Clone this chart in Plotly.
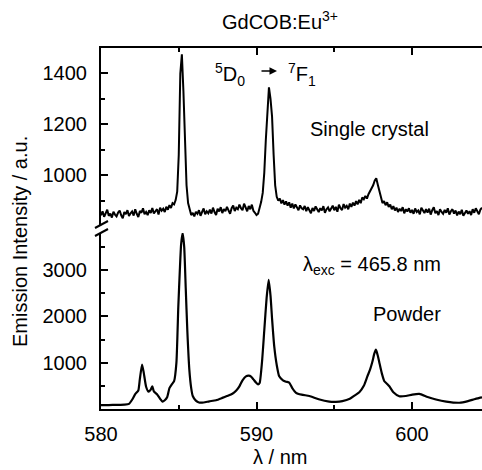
import plotly.graph_objects as go

# ---------------- data ----------------
crystal_wl = [
    580.0, 580.1, 580.2, 580.3, 580.4, 580.5, 580.6, 580.7, 580.8, 580.9,
    581.0, 581.1, 581.2, 581.3, 581.4, 581.5, 581.6, 581.7, 581.8, 581.9,
    582.0, 582.1, 582.2, 582.3, 582.4, 582.5, 582.6, 582.7, 582.8, 582.9,
    583.0, 583.1, 583.2, 583.3, 583.4, 583.5, 583.6, 583.7, 583.8, 583.9,
    584.0, 584.1, 584.2, 584.3, 584.4, 584.5, 584.6, 584.7, 584.8, 584.9,
    585.0, 585.1, 585.2, 585.3, 585.4, 585.5, 585.6, 585.7, 585.8, 585.9,
    586.0, 586.1, 586.2, 586.3, 586.4, 586.5, 586.6, 586.7, 586.8, 586.9,
    587.0, 587.1, 587.2, 587.3, 587.4, 587.5, 587.6, 587.7, 587.8, 587.9,
    588.0, 588.1, 588.2, 588.3, 588.4, 588.5, 588.6, 588.7, 588.8, 588.9,
    589.0, 589.1, 589.2, 589.3, 589.4, 589.5, 589.6, 589.7, 589.8, 589.9,
    590.0, 590.1, 590.2, 590.3, 590.4, 590.5, 590.6, 590.7, 590.8, 590.9,
    591.0, 591.1, 591.2, 591.3, 591.4, 591.5, 591.6, 591.7, 591.8, 591.9,
    592.0, 592.1, 592.2, 592.3, 592.4, 592.5, 592.6, 592.7, 592.8, 592.9,
    593.0, 593.1, 593.2, 593.3, 593.4, 593.5, 593.6, 593.7, 593.8, 593.9,
    594.0, 594.1, 594.2, 594.3, 594.4, 594.5, 594.6, 594.7, 594.8, 594.9,
    595.0, 595.1, 595.2, 595.3, 595.4, 595.5, 595.6, 595.7, 595.8, 595.9,
    596.0, 596.1, 596.2, 596.3, 596.4, 596.5, 596.6, 596.7, 596.8, 596.9,
    597.0, 597.1, 597.2, 597.3, 597.4, 597.5, 597.6, 597.7, 597.8, 597.9,
    598.0, 598.1, 598.2, 598.3, 598.4, 598.5, 598.6, 598.7, 598.8, 598.9,
    599.0, 599.1, 599.2, 599.3, 599.4, 599.5, 599.6, 599.7, 599.8, 599.9,
    600.0, 600.1, 600.2, 600.3, 600.4, 600.5, 600.6, 600.7, 600.8, 600.9,
    601.0, 601.1, 601.2, 601.3, 601.4, 601.5, 601.6, 601.7, 601.8, 601.9,
    602.0, 602.1, 602.2, 602.3, 602.4, 602.5, 602.6, 602.7, 602.8, 602.9,
    603.0, 603.1, 603.2, 603.3, 603.4, 603.5, 603.6, 603.7, 603.8, 603.9,
    604.0, 604.1, 604.2, 604.3, 604.4, 604.5,
]
crystal_int = [
    842, 858, 836, 851, 864, 840, 849, 833, 856, 845,
    838, 853, 861, 842, 830, 855, 847, 862, 839, 850,
    857, 841, 866, 848, 835, 859, 852, 870, 846, 855,
    843, 862, 851, 871, 849, 858, 866, 845, 872, 860,
    868, 855, 876, 864, 882, 871, 890, 885, 902, 935,
    1080, 1400, 1475, 1330, 1090, 960, 890, 860, 843, 852,
    838, 856, 848, 862, 840, 855, 869, 846, 858, 850,
    864, 849, 872, 855, 843, 868, 857, 874, 851, 866,
    858, 875, 862, 848, 870, 881, 859, 872, 866, 884,
    870, 862, 888, 874, 858, 879, 866, 884, 860, 852,
    843, 848, 870, 895, 930, 1010, 1140, 1270, 1345, 1300,
    1230, 1080, 960, 915, 900, 908, 889, 902, 884, 897,
    880, 893, 872, 888, 869, 885, 876, 862, 881, 870,
    866, 879, 858, 874, 862, 850, 871, 859, 877, 864,
    855, 870, 861, 878, 852, 866, 873, 858, 869, 880,
    862, 875, 856, 884, 870, 863, 886, 872, 879, 866,
    888, 875, 892, 880, 898, 885, 903, 890, 912, 905,
    918, 908, 925, 935, 948, 960, 978, 988, 962, 935,
    905, 890, 898, 882, 893, 875, 884, 866, 878, 861,
    872, 855, 868, 859, 874, 850, 866, 857, 870, 852,
    863, 848, 869, 855, 861, 846, 872, 858, 851, 866,
    853, 868, 845, 862, 874, 850, 859, 843, 866, 855,
    848, 863, 852, 870, 845, 858, 866, 849, 861, 842,
    857, 846, 864, 840, 853, 861, 848, 858, 843, 866,
    852, 870, 858, 846, 865, 872,
]

powder_wl = [
    580.0, 580.5, 581.0, 581.5, 581.8, 582.0, 582.2, 582.4, 582.5, 582.64,
    582.75, 582.9, 583.05, 583.2, 583.3, 583.4, 583.6, 583.8, 583.95, 584.1,
    584.26, 584.4, 584.55, 584.7, 584.85, 584.97, 585.07, 585.15, 585.25, 585.35,
    585.45, 585.55, 585.68, 585.8, 585.9, 586.1, 586.3, 586.6, 586.96, 587.4,
    587.8, 588.1, 588.45, 588.7, 588.9, 589.1, 589.32, 589.5, 589.65, 589.8,
    589.97, 590.1, 590.2, 590.35, 590.5, 590.65, 590.78, 590.9, 591.0, 591.14,
    591.3, 591.46, 591.7, 591.9, 592.1, 592.3, 592.54, 592.9, 593.4, 594.0,
    594.68, 595.1, 595.52, 596.0, 596.3, 596.61, 596.9, 597.13, 597.3, 597.45,
    597.58, 597.68, 597.8, 597.9, 598.05, 598.22, 598.4, 598.54, 598.8, 599.18,
    599.6, 600.02, 600.47, 601.0, 601.54, 602.2, 603.04, 603.6, 604.0, 604.33,
    604.5,
]
powder_int = [
    85, 85, 90, 95, 110, 200, 320, 400, 650, 960,
    780, 480, 375, 420, 490, 380, 320, 220, 160, 190,
    260, 450, 530, 600, 1000, 2200, 3000, 3550, 3800, 3500,
    2600, 1700, 850, 450, 280, 180, 140, 140, 165, 190,
    240, 280, 330, 400, 490, 620, 705, 720, 700, 640,
    570, 530, 560, 1000, 1700, 2400, 2790, 2450, 1950, 1350,
    950, 705, 620, 590, 570, 450, 350, 310, 280, 210,
    160, 155, 170, 220, 290, 360, 500, 705, 850, 1020,
    1200, 1280, 1150, 1000, 780, 600, 540, 490, 360, 275,
    280, 310, 325, 260, 205, 160, 135, 170, 210, 240,
    250,
]

x_ticks = [580, 590, 600]
x_minor = [585, 595, 605]
y_top_ticks = [1000, 1200, 1400]
y_top_minor = [900, 1100, 1300, 1500]
y_bot_ticks = [1000, 2000, 3000]
y_bot_minor = [500, 1500, 2500, 3500]

# ---------------- layout geometry ----------------
W, H = 482, 470
ML, MR, MT, MB = 101, 0, 48, 61
PW = W - ML - MR
PH = H - MT - MB


def px(xp):
    return (xp - ML) / PW


def py(yp):
    return (H - MB - yp) / PH


FONT = "Liberation Sans, Arial, sans-serif"

fig = go.Figure()
fig.add_trace(go.Scatter(x=powder_wl, y=powder_int, mode="lines",
                         line=dict(color="black", width=2.2, shape="spline",
                                   smoothing=0.5),
                         xaxis="x", yaxis="y", showlegend=False))
fig.add_trace(go.Scatter(x=crystal_wl, y=crystal_int, mode="lines",
                         line=dict(color="black", width=2),
                         xaxis="x2", yaxis="y2", showlegend=False))

axis_common = dict(showgrid=False, zeroline=False, showline=True,
                   linecolor="black", linewidth=2, ticks="inside",
                   ticklen=7, tickwidth=2, tickcolor="black",
                   tickfont=dict(family=FONT, size=20, color="black"))

fig.update_layout(
    width=W, height=H,
    margin=dict(l=ML, r=MR, t=MT, b=MB),
    paper_bgcolor="white", plot_bgcolor="white",
    font=dict(family=FONT, size=20, color="black"),
    xaxis=dict(**axis_common, range=[580, 604.5], anchor="y",
               tickmode="array", tickvals=x_ticks,
               ticklabelstandoff=6,
               minor=dict(tickmode="array", tickvals=x_minor, ticks="inside",
                          ticklen=4, tickwidth=2, tickcolor="black")),
    xaxis2=dict(**axis_common, range=[580, 604.5], anchor="y2", side="top",
                matches="x", showticklabels=False,
                tickmode="array", tickvals=x_ticks,
                minor=dict(tickmode="array", tickvals=x_minor, ticks="inside",
                           ticklen=4, tickwidth=2, tickcolor="black")),
    yaxis=dict(**axis_common, range=[0, 3800], domain=[0, py(233)],
               anchor="x", tickmode="array", tickvals=y_bot_ticks,
               ticklabelstandoff=8,
               minor=dict(tickmode="array", tickvals=y_bot_minor, ticks="inside",
                          ticklen=4, tickwidth=2, tickcolor="black")),
    yaxis2=dict(**axis_common, range=[800, 1500], domain=[py(226), 1],
                anchor="x2", tickmode="array", tickvals=y_top_ticks,
                ticklabelstandoff=8,
                minor=dict(tickmode="array", tickvals=y_top_minor, ticks="inside",
                           ticklen=4, tickwidth=2, tickcolor="black")),
)

ann = []


def text(t, xp, yp, size=20, **kw):
    ann.append(dict(text=t, x=px(xp), y=py(yp), xref="paper", yref="paper",
                    showarrow=False, xanchor="center", yanchor="middle",
                    font=dict(family=FONT, size=size, color="black"), **kw))


text("GdCOB:Eu<sup>3+</sup>", 280, 20)
text("<sup>5</sup>D<sub>0</sub>", 230, 74)
text("<sup>7</sup>F<sub>1</sub>", 302, 74)
text("Single crystal", 369, 129)
text("λ<sub>exc</sub> = 465.8 nm", 372, 265)
text("Powder", 407, 314)
text("λ / nm", 280, 457)
text("Emission Intensity / a.u.", 20, 242, textangle=-90)

ann.append(dict(x=px(277), y=py(71), xref="paper", yref="paper",
                ax=-17, ay=0, text="", showarrow=True, arrowhead=2,
                arrowsize=1, arrowwidth=1.5, arrowcolor="black"))
fig.update_layout(annotations=ann)

# axis-break marks on the left axis
for y0 in (226, 234):
    fig.add_shape(type="line", xref="paper", yref="paper",
                  x0=px(95), y0=py(y0 + 2), x1=px(108), y1=py(y0 - 5),
                  line=dict(color="black", width=2))

fig.write_html("out.html")
